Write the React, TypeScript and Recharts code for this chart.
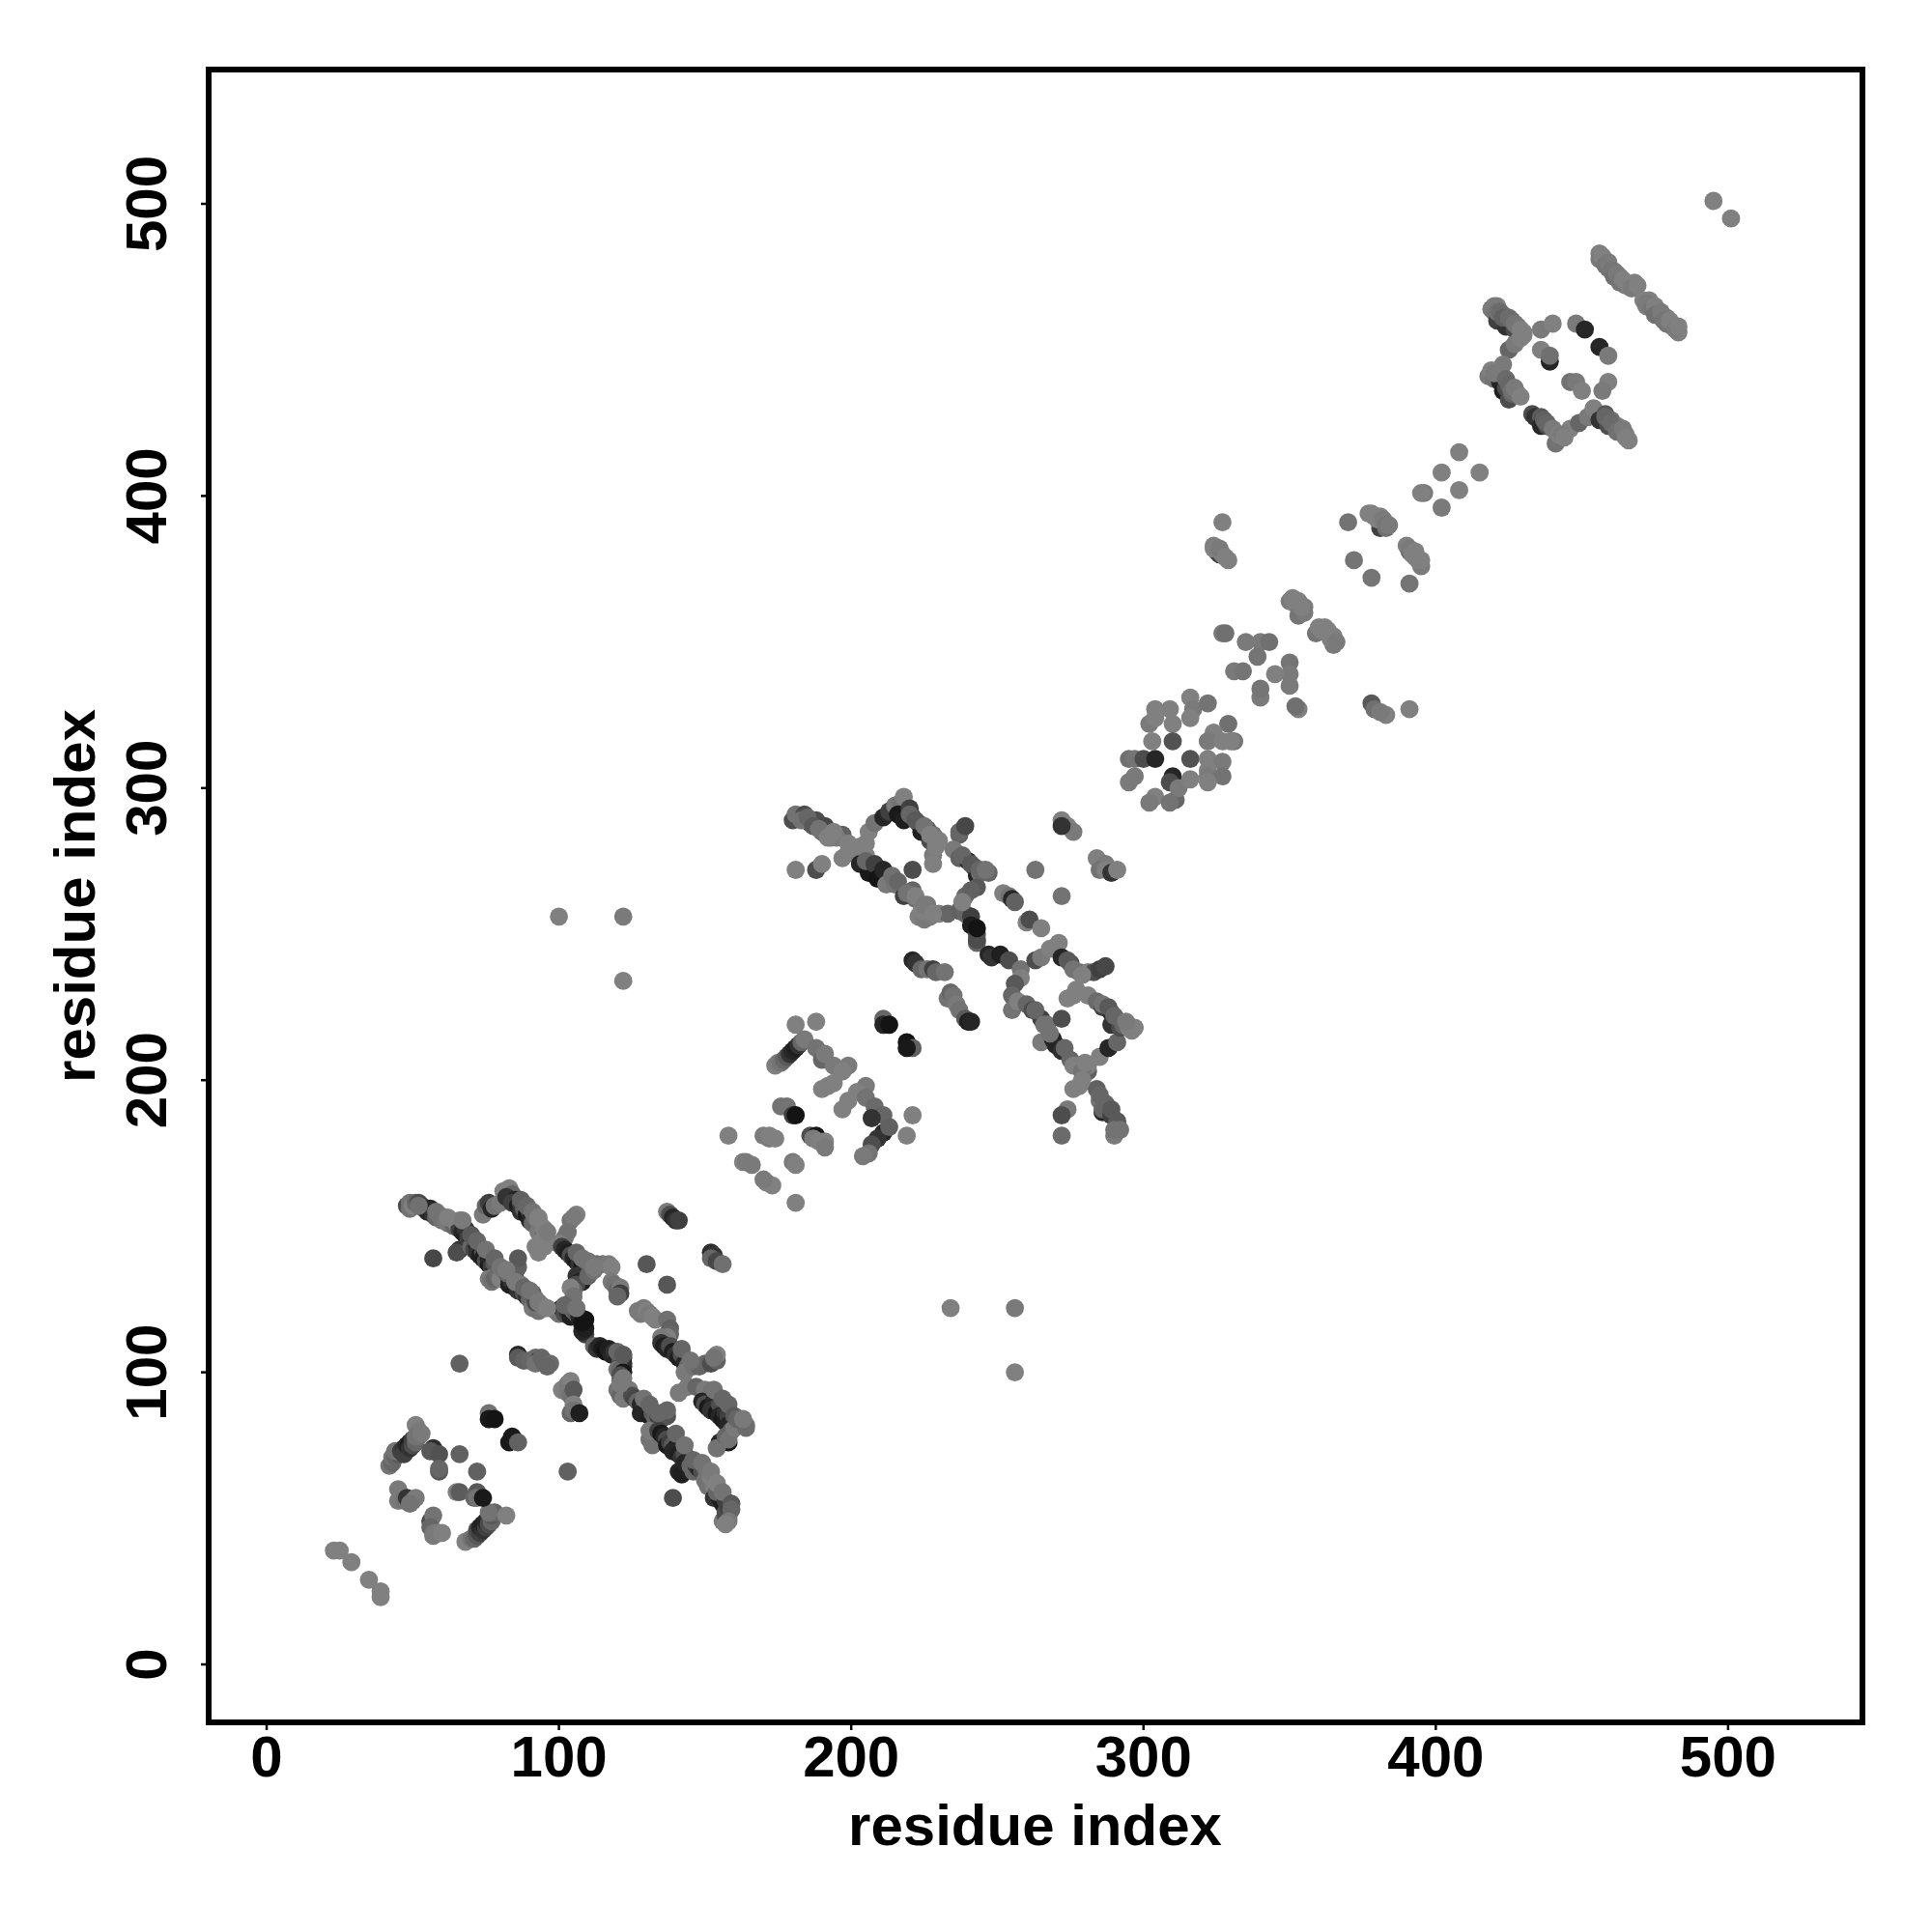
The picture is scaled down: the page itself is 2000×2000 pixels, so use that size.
import React from 'react';
import { ScatterChart, Scatter, XAxis, YAxis, ReferenceArea } from 'recharts';

type P = [number, number, number];
// each entry: residue i, residue j, contact score (0-100)
const tail: P[] = [[23,39,50],[25,39,50],[29,35,50],[35,29,50],[39,25,50],[39,23,50]];
const helixLow: P[] = [
[42,68,55],[43,69,60],[43,71,55],[44,71,60],[45,72,65],[44,73,55],[46,73,75],[47,74,80],[47,72,75],[48,75,85],[49,76,88],[49,74,80],[50,75,70],[50,77,75],[51,76,60],[51,82,50],[52,78,56],[52,80,52],
[68,42,50],[70,43,55],[71,43,60],[72,44,65],[72,46,70],[73,45,75],[73,47,85],[74,46,80],[74,48,88],[75,47,75],[75,49,85],[76,50,80],[76,48,70],[77,49,60],[77,51,65],[78,52,60],[76,52,55],[82,51,50],
[57,74,82],[56,73,65],[59,72,68],[59,66,66],[59,67,60],[66,72,62],[72,66,62],[65,59,50],[66,59,64],[72,59,65],[71,57,60],[72,57,55],[74,57,90],
[45,60,52],[46,58,52],[45,56,52],[47,56,55],[48,57,80],[50,56,60],[51,57,52],[49,55,55],
[56,49,70],[57,51,55],[56,47,60],[57,45,55],[58,45,52],[59,45,52],[57,44,52],[60,45,50],
[76,86,55],[76,84,90],[78,84,92],[84,78,90],[83,76,90],[86,76,62]];
const sheetOne: P[] = [
[48,157,70],[49,156,55],[49,158,55],[50,157,50],[51,158,60],[52,158,70],[53,157,75],[54,156,80],[55,155,85],[56,156,85],[57,154,80],[58,153,60],[59,154,50],[60,152,55],[61,153,52],[62,151,52],[63,152,52],[64,150,60],[65,151,50],[66,152,52],[66,149,75],[67,148,85],[68,147,88],[68,149,80],[66,142,80],[65,141,70],[69,146,75],[70,145,80],[71,144,82],[70,143,60],[71,142,72],[72,143,85],[72,141,80],[73,140,88],[74,141,70],[74,139,88],[75,138,70],[76,137,90],[76,139,85],[77,136,75],[78,135,85],[78,137,65],[79,134,60],[76,132,52],[77,131,55],[78,132,60],[79,133,58],[80,132,50],[83,130,88],[83,132,85],[84,131,80],[84,133,75],[82,134,60],[85,134,70],[86,136,62],[86,139,65],[85,129,88],[86,128,80],[87,130,55],[88,127,70],[89,126,80],[90,125,60],[91,127,62],[92,125,55],[91,122,52],[93,121,55],[94,123,55],[95,122,52],[92,124,70],[99,121,60],[100,120,55],[101,122,85],[102,120,70],[103,121,80],[104,119,88],[105,121,60],[106,120,65],[107,119,85],[108,116,70],[109,113,75],[108,114,85],[109,115,88],[108,117,92],[109,118,92],
[74,154,52],[75,157,60],[76,158,75],[77,156,85],[78,157,55],[80,158,52],[81,162,50],[83,163,50],[84,161,60],[82,160,80],[85,159,85],[84,158,75],[86,157,88],[87,158,70],[87,155,80],[88,156,62],[89,154,90],[90,155,75],[90,152,85],[91,151,60],[92,153,55],[93,152,50],[94,150,50],[93,148,52],[95,147,65],[94,145,50],[93,141,50],[92,143,50],[95,143,50],
[106,154,50],[104,152,55],[105,153,52],[103,148,55],[102,146,55],[100,144,50],[101,143,75],[102,142,85],[103,141,88],[104,140,70],[105,139,85],[106,138,88],[107,137,80],[108,136,90],[109,135,85],[110,136,60],[111,137,52],[113,137,60],[115,137,55],[117,137,52],[118,136,50],
[106,133,80],[107,131,85],[108,131,88],[106,130,70],[105,128,60],[104,129,50],[105,126,55],[110,133,60],[112,135,55],
[118,131,52],[119,130,55],[120,128,60],[121,129,52],[121,127,75],[120,126,60],[130,137,66],[137,130,66],[57,139,72],[139,57,70],[66,103,62],[103,66,62],
[127,121,52],[128,120,52],[129,122,52],[130,121,50],[131,120,52],[132,119,50],[133,118,50],[137,118,56],[138,115,62],[138,113,60],[137,112,50],[135,112,52],
[135,110,80],[136,109,88],[137,108,85],[138,109,70],[139,107,88],[140,106,80],[141,105,88],[142,106,70],[143,103,85],[144,102,60],[143,100,52],[146,102,55],[148,102,60],[150,103,60],[152,103,70],[154,104,62],[154,106,50],[153,105,55],
[137,155,52],[138,154,70],[139,153,85],[140,152,80],[141,152,75],[152,141,82],[153,140,80],[152,139,60],[154,138,72],[156,137,56]];
const sheetTwo: P[] = [
[112,109,60],[113,108,80],[114,109,85],[115,108,90],[116,107,92],[117,108,88],[118,106,85],[119,107,80],[120,105,85],[122,105,75],[121,104,70],[122,103,88],[122,102,80],[120,101,55],[121,101,60],[122,100,90],[121,99,70],[121,97,60],[120,94,55],[121,92,60],[122,91,52],[124,94,52],[125,92,70],[126,91,72],[127,90,60],[128,89,85],[129,88,75],[130,88,80],[128,86,85],[131,85,88],[132,86,65],[133,82,85],[133,84,60],[134,85,75],[135,84,70],[136,86,80],[137,85,68],[131,77,55],[132,75,55],[131,80,52],[134,80,75],[135,79,90],[136,78,85],[137,77,70],[137,75,90],[138,76,75],[139,75,65],[140,74,90],[139,73,85],[141,72,88],[142,71,80],[143,72,70],[141,66,85],[142,65,88],[143,69,85],[145,68,60],[146,66,60],[147,68,75],[148,67,85],[149,66,70],[150,67,60],[151,66,52],[150,63,55],[151,61,55],[152,64,50],[153,61,50],[153,57,80],[155,57,88],[156,55,88],[154,59,60],[157,56,75],[156,49,52],[158,50,50],[157,51,72],[157,52,70],[158,54,75],
[141,93,52],[144,95,52],[147,95,60],[150,94,52],[152,93,55],[153,91,60],[149,90,85],[150,89,70],[151,88,90],[153,90,85],[152,87,80],[154,86,90],[155,89,70],[155,85,85],[156,84,90],[157,86,80],[157,83,88],[158,85,75],[158,82,85],[159,80,60],[155,76,85],[158,76,90],[154,74,55],[157,78,60],[158,77,55],[160,81,52],[162,83,52],[164,82,52],[164,81,58],
[86,106,85],[86,105,65],[88,104,62],[90,104,60],[92,105,58],[93,104,80],[92,103,55],[94,105,60],[95,103,60],[97,103,58],[96,102,60],
[101,94,50],[103,96,52],[104,97,50],[103,93,52],[104,92,55],[105,94,65],[105,89,50],[104,86,60],[105,87,55],[107,86,88]];
const clusterMid: P[] = [
[181,219,50],[188,220,50],[219,213,92],[211,221,60],[211,219,85],[213,219,92],[221,211,62],[219,211,90],
[174,205,50],[175,206,52],[176,206,55],[177,207,60],[178,208,65],[179,209,80],[180,210,85],[181,211,88],[182,212,80],[183,213,60],[184,214,52],
[188,211,55],[190,207,60],[191,209,52],[194,205,52],[199,205,52],[197,203,50],[194,199,50],[190,197,50],[192,198,50],
[205,198,52],[202,196,50],[199,193,50],[197,190,50],[205,194,55],[208,191,58],[211,188,60],[207,187,80],[211,182,85],[209,180,80],[207,178,70],[206,175,55],[204,174,52],[213,184,62],[221,188,50],[219,181,50],
[176,191,55],[178,191,55],[180,188,75],[181,188,92],[158,181,50],[170,181,52],[172,180,52],[174,180,50],
[186,181,70],[188,181,92],[187,180,52],[189,179,50],[191,179,50],[191,177,52],
[163,172,50],[164,172,52],[166,171,52],[172,181,50],[180,172,52],[181,171,50],[171,165,50],[173,164,50],[170,166,52],[181,158,50]];
const blockUpper: P[] = [
[181,272,50],[188,272,70],[190,274,50],
[180,289,70],[181,291,55],[184,291,70],[186,288,85],[188,289,70],[190,285,60],[191,287,72],[193,283,56],[197,284,62],[195,283,52],[199,281,50],[203,280,50],[205,281,50],[197,276,50],[199,278,50],[202,277,50],[205,277,50],
[203,274,85],[206,271,90],[205,275,60],[208,274,75],[209,269,92],[211,272,85],[213,269,85],[212,267,52],[215,267,55],[218,263,75],[221,265,60],[222,262,56],[226,260,52],[223,256,50],[225,255,52],[227,256,52],[230,257,50],[233,257,60],[221,272,70],
[237,258,62],[239,257,60],[241,256,75],[241,253,88],[243,250,70],[243,247,60],[243,248,70],[243,252,92],
[206,285,50],[208,288,55],[211,290,85],[213,292,75],[215,294,52],[217,295,55],[218,297,50],[216,291,90],[218,289,88],[220,293,75],[221,290,85],[223,288,70],[224,285,88],[226,286,65],[227,282,70],[228,284,56],[229,282,52],[228,277,52],[228,274,50],
[237,284,62],[237,285,60],[239,287,72],[235,279,52],[237,276,62],[240,275,85],[242,273,80],[243,270,85],[244,271,55],[247,271,60],[243,266,65],[239,263,60],[241,265,62],[238,261,50],
[252,264,50],[254,263,55],[255,262,85],[256,261,62],[260,254,50],[261,255,70],[265,252,50],
[263,272,55],[272,263,55],[272,289,50],[274,287,50],[276,285,52],[272,287,80],[284,276,50],[287,274,52],[285,272,55],[287,272,50],[289,271,80],[291,272,50]];
const blockLower: P[] = [
[247,243,85],[248,242,80],[251,243,88],[254,241,70],[258,238,55],[258,235,50],[256,233,65],[255,229,60],[255,224,55],[257,227,50],[260,226,60],[262,224,70],[265,221,75],[267,219,55],[272,221,70],[265,213,52],[269,214,88],[270,212,85],[272,210,82],[275,207,60],[278,205,50],[281,203,62],[276,197,50],[278,198,50],[281,205,50],[285,208,50],[288,211,85],[291,213,60],
[263,241,70],[265,242,52],[268,245,50],[271,247,50],[272,242,85],[275,240,70],[278,237,55],[281,237,50],[283,237,70],[285,238,75],[287,239,72],[277,231,50],[274,228,50],[276,229,50],[281,229,50],[284,227,58],[286,225,75],[289,223,85],[292,220,90],[289,219,80],[292,218,70],[296,217,50],[297,218,50],
[284,197,62],[285,193,55],[286,189,85],[286,190,60],[289,188,75],[290,181,52],[291,185,72],[274,190,52],[272,188,70],[272,181,58],
[221,241,85],[222,240,80],[224,238,60],[226,238,55],[228,238,75],[229,237,60],[232,237,55],[233,228,55],[234,230,60],[235,229,55],[236,226,52],[237,224,55],[239,221,65],[240,220,88],[241,220,85]];
const clusterDomain: P[] = [
[304,327,50],[309,327,50],[316,331,50],[317,327,52],[322,329,55],[316,324,50],[302,322,52],[304,324,50],[310,322,50],[329,322,56],[324,319,50],[322,316,52],[327,316,50],[331,316,55],[330,316,50],
[303,316,50],[310,316,68],[295,310,56],[297,310,54],[300,310,70],[304,310,85],[316,310,68],[322,310,50],[327,309,52],[322,306,50],[297,304,52],[295,302,52],[310,304,85],[309,302,70],[311,296,60],[312,300,52],[316,303,50],[322,304,52],[327,304,55],[322,302,50],[304,297,50],[302,295,52],[309,295,55],
[327,391,50],[324,383,50],[325,381,55],[326,380,75],[327,380,50],[329,378,50],[370,391,55],[377,394,50],[379,393,52],[382,391,60],[381,389,75],[383,389,56],[372,378,54],[378,372,54],[391,370,54],[390,383,50],[391,381,60],[393,379,50],[395,376,52],
[350,364,52],[352,363,50],[354,361,52],[353,359,54],[359,353,54],[361,354,50],[363,354,50],[365,349,52],[364,352,50],
[327,353,52],[328,353,56],[335,350,52],[340,350,52],[343,350,56],[339,345,54],[331,340,52],[334,340,54],[350,343,54],[350,339,52],[345,339,50],[350,335,52],[340,331,52],[340,334,54],[353,327,50],[352,328,56],
[378,329,66],[379,327,56],[383,325,50],[381,326,52],[391,327,50],
[396,401,52],[402,396,52],[395,401,50],[402,408,50],[408,402,50],[408,415,50],[415,408,50]];
const clusterHigh: P[] = [
[419,464,52],[420,463,55],[421,465,50],[421,460,75],[423,462,60],[424,458,80],[426,460,65],[427,457,70],[428,458,56],[430,455,50],[425,450,60],[427,452,52],[423,445,52],
[418,441,52],[419,443,50],[420,440,55],[422,439,85],[423,436,88],[424,437,70],[425,433,70],[426,435,60],[428,435,52],
[433,428,70],[434,427,80],[436,427,65],[436,424,85],[438,424,70],[442,420,52],[441,418,55],[446,423,50],[449,425,60],[452,427,52],[454,430,50],[456,426,80],[458,428,65],[459,424,70],[460,426,56],[462,424,52],[465,421,50],
[436,457,52],[440,459,50],[436,450,50],[439,446,85],[439,448,56],[448,459,52],[451,457,85],[456,451,85],[459,448,52],[446,439,55],[448,439,52],[450,436,50],[459,439,50],[457,436,52],
[456,483,50],[458,480,56],[459,478,60],[461,477,52],[463,475,50],[465,472,50],[468,473,50],[472,465,50],[473,467,50],[476,463,56],[479,461,50],[481,458,52],[483,456,50],
[495,501,50],[501,495,50],[100,256,50],[122,256,52],[122,234,50],[234,122,50],[256,122,52],[256,100,50]];
// lighter contacts that sit over the dark strands
const overlayHigh: P[] = [
[456,481,52],[457,482,50],[458,479,54],[459,480,52],[460,477,54],[461,475,56],[462,476,52],[463,473,54],[464,474,50],[466,472,50],[467,471,52],[469,472,50],
[471,467,50],[472,466,52],[474,464,54],[475,465,50],[475,462,56],[477,463,52],[478,460,54],[479,459,54],[480,460,50],[482,457,52],[483,458,50],
[420,465,52],[421,463,55],[422,463,58],[423,461,62],[425,461,58],[427,459,54],[429,457,50],[430,456,50],[429,454,50],
[420,442,52],[424,440,58],[425,438,60],[426,436,56],[427,437,52],[429,434,50],
[437,426,62],[438,425,60],[440,423,52],[442,421,50],[443,421,52],[444,420,50],[458,427,60],[460,425,58],[462,422,56],[464,423,52],[465,420,50],[466,419,50]];
const overlayDomain: P[] = [
[324,382,50],[326,382,52],[328,379,50],[378,394,50],[380,392,50],[381,393,50],[382,392,52],[383,390,54],[384,390,52],
[391,382,52],[392,380,50],[393,381,50],[394,378,50],[395,378,50],
[351,365,50],[353,364,50],[355,362,52],[355,360,52],[354,362,50],[360,355,50],[362,355,50],[364,351,50],[365,352,50],[366,350,52]];
const overlayBlocks: P[] = [
[183,289,55],[185,290,60],[187,287,65],[189,286,55],[192,283,50],[194,285,50],
[214,270,56],[216,268,60],[219,264,55],[222,263,50],[224,258,50],[225,260,52],[228,257,50],
[220,291,60],[222,289,65],[225,287,55],[227,284,50],[229,280,50],[230,282,50],
[238,277,60],[241,274,65],[244,272,60],[246,272,55],
[263,224,60],[266,219,55],[268,216,55],[273,211,60],[276,205,50],[279,203,55],[280,206,50],[279,200,50],
[274,241,65],[276,238,55],[279,236,50],[286,226,55],[288,225,65],[290,222,60],[293,219,60],[295,218,50],[294,220,52],
[285,195,60],[287,192,60],[289,190,65],[291,186,65],[290,183,55],[292,183,55]];
const overlaySheets: P[] = [
[52,157,56],[58,155,55],[62,153,50],[67,152,52],[70,147,65],[72,145,60],[75,142,55],[78,139,60],[80,136,55],[82,135,52],
[85,131,52],[88,129,60],[90,128,55],[93,124,52],[96,122,50],[102,123,60],[106,122,55],
[87,159,62],[89,157,60],[91,155,55],[93,153,50],[95,149,50],[96,148,52],
[106,141,60],[108,139,55],[110,138,55],[112,136,52],[142,108,60],[145,104,55],[120,107,60],[122,106,65],[122,98,52],[121,96,52],
[129,91,55],[131,89,60],[134,86,60],[137,87,60],[140,79,60],[143,75,55],[146,70,60],[149,69,55],[152,66,52],[154,62,50],[156,59,55],[159,55,65],[159,53,60],[158,49,52],[157,48,50],
[153,94,55],[156,91,60],[158,89,60],[160,85,65],[161,84,60],[163,84,52],[51,78,55],[53,79,52]];

const residueTicks = [0, 100, 200, 300, 400, 500];
const axisTitle = 'residue index';
const range: [number, number] = [-19.84, 545.97];

const allPoints = [tail, helixLow, sheetOne, sheetTwo, clusterMid, blockUpper, blockLower, clusterDomain, clusterHigh,
  overlayHigh, overlayDomain, overlayBlocks, overlaySheets]
  .flat()
  .map(([i, j, score]) => ({ i, j, score }));

const shade = (score: number) => {
  const g = Math.round(255 * (1 - score / 100));
  return `rgb(${g},${g},${g})`;
};

const FONT = '"Liberation Sans", Arial, sans-serif';
const textStyle = { fontFamily: FONT, fontWeight: 700, fontSize: 60, fill: '#000' };

const Dot = (p: any) => {
  const score = p.score ?? p.payload?.score;
  return <circle cx={p.cx} cy={p.cy} r={9.4} fill={shade(score)} />;
};

const XTick = (p: any) => (
  <text x={p.x} y={p.y + 46} textAnchor="middle" style={textStyle}>{p.payload.value}</text>
);
const YTick = (p: any) => (
  <text transform={`translate(${172},${p.y}) rotate(-90)`} textAnchor="middle" style={textStyle}>{p.payload.value}</text>
);
const XTitle = () => (
  <text x={1071.5} y={1910} textAnchor="middle" style={textStyle}>{axisTitle}</text>
);
const YTitle = () => (
  <text transform="translate(98,927.5) rotate(-90)" textAnchor="middle" style={textStyle}>{axisTitle}</text>
);

export default function App() {
  return (
    <div style={{ position: 'absolute', left: 0, top: 0, width: 2000, height: 2000, background: '#fff' }}>
      <ScatterChart width={2000} height={2000} margin={{ top: 72, right: 72, bottom: 0, left: 0 }}>
        <XAxis type="number" dataKey="i" domain={range} ticks={residueTicks} allowDataOverflow height={217}
          axisLine={false} tickLine={{ stroke: '#000', strokeWidth: 2.5 }} tickSize={8} tick={<XTick />} interval={0}
          label={<XTitle />} />
        <YAxis type="number" dataKey="j" domain={range} ticks={residueTicks} allowDataOverflow width={216}
          axisLine={false} tickLine={{ stroke: '#000', strokeWidth: 2.5 }} tickSize={8} tick={<YTick />} interval={0}
          label={<YTitle />} />
        <Scatter data={allPoints} isAnimationActive={false} shape={<Dot />} />
        <ReferenceArea x1={range[0]} x2={range[1]} y1={range[0]} y2={range[1]} fill="none" fillOpacity={0}
          stroke="#000" strokeWidth={6} ifOverflow="visible" />
      </ScatterChart>
    </div>
  );
}
